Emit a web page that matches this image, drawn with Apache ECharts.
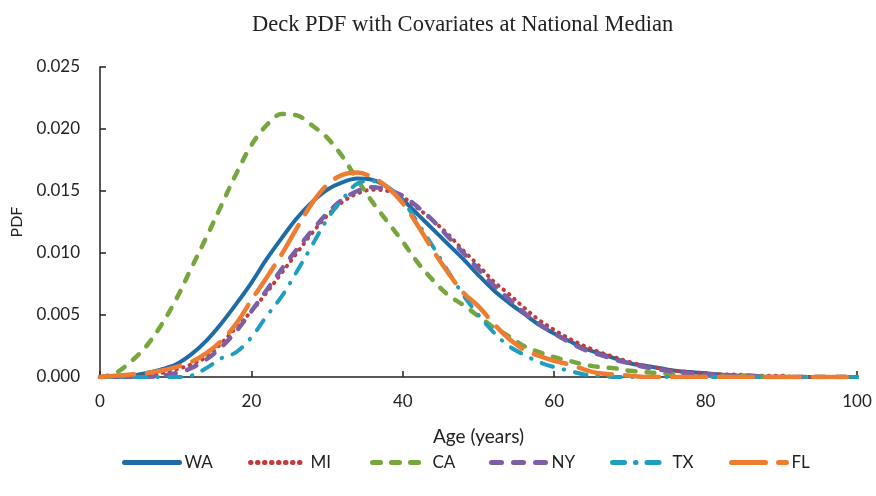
<!DOCTYPE html>
<html><head><meta charset="utf-8">
<script src="https://cdn.jsdelivr.net/npm/echarts@6/dist/echarts.min.js"></script>
<style>html,body{margin:0;padding:0;background:#fff}#c{width:876px;height:496px}</style>
</head><body><div id="c"></div>
<script>
var ages = [0,2,4,6,8,10,12,14,16,18,20,22,24,26,28,30,32,34,36,38,40,42,44,46,48,50,52,54,56,58,60,62,64,66,68,70,72,74,76,78,80,82,84,86,88,90,92,94,96,98,100];
var WA = [0,0,0.0001,0.0003,0.0006,0.0010,0.0018,0.0029,0.0043,0.0059,0.0076,0.0095,0.0112,0.0128,0.0141,0.0151,0.0157,0.0160,0.0159,0.0153,0.0143,0.0131,0.0119,0.0107,0.0095,0.0082,0.0070,0.0060,0.0051,0.0042,0.0035,0.0029,0.0023,0.0019,0.0015,0.0011,0.0009,0.0007,0.0005,0.0004,0.0003,0.0002,0.0001,0.0001,0,0,0,0,0,0,0];
var MI = [0,0,0,0.0001,0.0003,0.0006,0.0010,0.0016,0.0027,0.0040,0.0053,0.0068,0.0084,0.0100,0.0116,0.0130,0.0141,0.0148,0.0151,0.0150,0.0145,0.0136,0.0126,0.0115,0.0102,0.0090,0.0077,0.0067,0.0056,0.0046,0.0038,0.0031,0.0025,0.0020,0.0016,0.0012,0.0009,0.0007,0.0005,0.0004,0.0003,0.0002,0.0002,0.0001,0.0001,0.0001,0,0,0,0,0];
var CA = [0,0.0003,0.0012,0.0024,0.0041,0.0062,0.0087,0.0112,0.0138,0.0164,0.0187,0.0203,0.0212,0.0211,0.0203,0.0193,0.0178,0.0159,0.0141,0.0125,0.0109,0.0092,0.0078,0.0066,0.0058,0.0049,0.0040,0.0033,0.0025,0.0020,0.0016,0.0013,0.0010,0.0008,0.0007,0.0005,0.0004,0.0003,0.0002,0.0002,0.0001,0.0001,0.0001,0.0001,0,0,0,0,0,0,0];
var NY = [0,0,0,0,0.0001,0.0003,0.0007,0.0014,0.0024,0.0037,0.0053,0.0070,0.0087,0.0103,0.0118,0.0132,0.0143,0.0150,0.0153,0.0151,0.0146,0.0137,0.0126,0.0113,0.0100,0.0087,0.0074,0.0063,0.0052,0.0043,0.0035,0.0028,0.0022,0.0018,0.0014,0.0011,0.0008,0.0006,0.0004,0.0003,0.0002,0.0002,0.0001,0.0001,0,0,0,0,0,0,0];
var TX = [0,0,0,0,0,0,0.0001,0.0007,0.0015,0.0020,0.0032,0.0049,0.0065,0.0085,0.0106,0.0127,0.0143,0.0156,0.0158,0.0153,0.0142,0.0124,0.0105,0.0085,0.0066,0.0050,0.0036,0.0025,0.0018,0.0012,0.0008,0.0005,0.0002,0.0001,0,0,0,0,0,0,0,0,0,0,0,0,0,0,0,0,0];
var FL = [0,0.0001,0.0002,0.0003,0.0005,0.0008,0.0012,0.0019,0.0029,0.0043,0.0062,0.0080,0.0099,0.0120,0.0140,0.0155,0.0163,0.0165,0.0161,0.0153,0.0140,0.0122,0.0102,0.0084,0.0068,0.0057,0.0043,0.0031,0.0022,0.0017,0.0013,0.0010,0.0006,0.0003,0.0002,0.0001,0,0,0,0,0,0,0,0,0,0,0,0,0,0,0];
var names = ['WA','MI','CA','NY','TX','FL'];
var values = [WA, MI, CA, NY, TX, FL];
var colors = ['#1F6BA5','#C23B3B','#77A63E','#7D5FA6','#1E9EC0','#EE7D31'];
var dashes = ['solid',[0.5,6.5],[8,11],[10,12],[12,11,0.5,11],[34,13]];
var widths = [4,4,4.5,4.5,4,4.5];
var legendLeft = [122,248,370,489,610,729];
var FONT = 'Lato, "Open Sans", sans-serif';

var chart = echarts.init(document.getElementById('c'));
var series = names.map(function(n,k){
  return {
    name:n, type:'line', smooth:0.35, symbol:'none',
    data: ages.map(function(a,i){return [a, values[k][i]];}),
    lineStyle:{color:colors[k], width:widths[k], type:dashes[k], cap:'round', join:'round'},
    itemStyle:{color:colors[k]}
  };
});
var legends = names.map(function(n,k){
  return {
    data:[n], left:legendLeft[k], top:454, padding:0, itemWidth:55, itemHeight:14, itemGap:0,
    itemStyle:{opacity:0},
    lineStyle:{width:5},
    textStyle:{fontFamily:FONT, fontSize:17, color:'#222'}
  };
});
chart.setOption({
  animation:false,
  backgroundColor:'#fff',
  title:{text:'Deck PDF with Covariates at National Median', left:247, top:9,
    textStyle:{fontFamily:'"Liberation Serif", "Times New Roman", serif', fontSize:22.5, fontWeight:'normal', color:'#222'}},
  legend: legends,
  grid:{left:100, right:19, top:67, bottom:119},
  xAxis:{type:'value', min:0, max:100, interval:20,
    name:'Age (years)', nameLocation:'middle', nameGap:50,
    nameTextStyle:{fontFamily:FONT, fontSize:19, color:'#222'},
    axisLine:{lineStyle:{color:'#222', width:1.5}},
    axisTick:{inside:true, length:6, lineStyle:{color:'#222', width:1.5}},
    axisLabel:{fontFamily:FONT, fontSize:17, color:'#222', margin:16},
    splitLine:{show:false}},
  yAxis:{type:'value', min:0, max:0.025, interval:0.005,
    name:'PDF', nameLocation:'middle', nameGap:75, nameRotate:90,
    nameTextStyle:{fontFamily:FONT, fontSize:16, color:'#222'},
    axisLine:{show:true, lineStyle:{color:'#222', width:1.5}},
    axisTick:{show:true, inside:true, length:6, lineStyle:{color:'#222', width:1.5}},
    axisLabel:{fontFamily:FONT, fontSize:17, color:'#222', margin:20,
      formatter:function(v){return v.toFixed(3);}},
    splitLine:{show:false}},
  series: series
});
</script></body></html>
